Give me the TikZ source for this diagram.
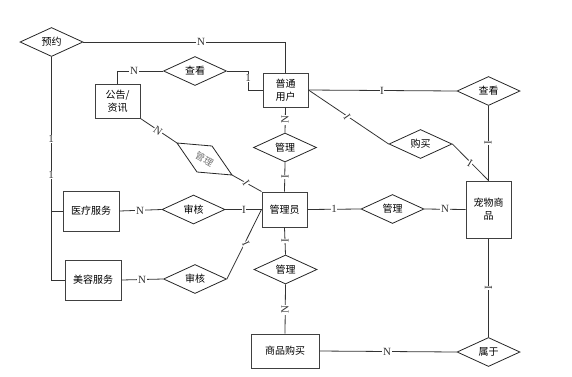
\documentclass[tikz,border=0pt]{standalone}
\usepackage{fontspec}
\setmainfont{Liberation Serif}
\newfontfamily\cjk{Noto Sans CJK SC}
\usetikzlibrary{shapes.geometric}
\begin{document}
\begin{tikzpicture}[x=1pt,y=-1pt,
  line width=0.8pt,color=black!80,
  ent/.style={draw=black!75,line width=1pt,rectangle,align=center,inner sep=1pt,text=black,font=\cjk\fontsize{10}{13}\selectfont},
  rel/.style={draw=black!85,line width=0.8pt,diamond,aspect=2,inner sep=0pt,minimum width=63pt,minimum height=29pt,text=black,font=\cjk\fontsize{10}{12}\selectfont},
  lbl/.style={fill=white,inner sep=0.6pt,font=\fontsize{11}{11}\selectfont,text=black!80},
  vl/.style={lbl,rotate=90}]
\useasboundingbox (0,0) rectangle (572,376);
% entities
\node[ent,minimum width=45pt,minimum height=34pt] (user) at (285.5,90) {普通\\用户};
\node[ent,minimum width=45pt,minimum height=34pt] (gg) at (117.5,101) {公告/\\资讯};
\node[ent,minimum width=45pt,minimum height=35pt] (adm) at (284.5,209.5) {管理员};
\node[ent,minimum width=45pt,minimum height=57pt] (pet) at (488.5,209.5) {宠物商\\品};
\node[ent,minimum width=56pt,minimum height=40pt] (yl) at (91,211) {医疗服务};
\node[ent,minimum width=56pt,minimum height=40pt] (mr) at (93,280) {美容服务};
\node[ent,minimum width=68pt,minimum height=34pt] (gm) at (285,351) {商品购买};
% relations
\node[rel] (yy) at (51.5,42) {预约};
\node[rel] (ck1) at (195,71) {查看};
\node[rel] (gl1) at (285,147.5) {管理};
\node[rel] (ck2) at (488.5,91) {查看};
\node[rel] (gm2) at (420.5,144) {购买};
\node[rel] (gl2) at (392.5,209) {管理};
\node[rel] (sh1) at (193.5,209.5) {审核};
\node[rel] (sh2) at (195,279) {审核};
\node[rel] (gl3) at (285.5,269.5) {管理};
\node[rel] (sy) at (488.5,352) {属于};
% tilted relation
\coordinate (t1) at (177,143);
\coordinate (t2) at (212,146);
\coordinate (t3) at (232,175);
\coordinate (t4) at (197,172);
\draw[draw=black!85] (t1) -- (t2) -- (t3) -- (t4) -- cycle;
\node[font=\cjk\fontsize{9.5}{11}\selectfont,text=black!55,rotate=-30,inner sep=0pt] (tx) at (204.5,159) {管理};
% connectors
\draw (yy.east) -| (user.north);
\node[lbl] at (201,42) {N};
\draw (yy.south) |- (yl.west);
\draw (yy.south) |- (mr.west);
\node[lbl] at (51,139) {1};
\node[lbl] at (51,175) {1};
\draw (ck1.west) -| (gg.north);
\node[lbl] at (134,71) {N};
\coordinate (k1) at (248,71);
\draw (ck1.east) -- (k1) |- (user.west);
\node[lbl] at (248,78) {1};
\draw (gg.south east) -- (t1);
\node[lbl,rotate=-35] at (158,131) {N};
\draw (t3) -- (adm.north west);
\node[lbl,rotate=-55] at (246,183) {I};
\draw (user.south) -- (gl1.north);
\node[vl] at (285,120) {N};
\draw (gl1.south) -- (adm.north);
\node[vl] at (285,177) {I};
\draw (user.east) -- (ck2.west);
\node[lbl] at (382,91) {I};
\draw (user.east) -- (gm2.west);
\node[lbl,rotate=-55] at (347,117) {I};
\draw (gm2.east) -- (pet.north);
\node[lbl,rotate=-30] at (470,163) {I};
\draw (ck2.south) -- (pet.north);
\node[vl] at (488,143) {I};
\draw (adm.east) -- (gl2.west);
\node[lbl] at (334,209) {1};
\draw (gl2.east) -- (pet.west);
\node[lbl] at (445,209) {N};
\draw (yl.east) -- (sh1.west);
\node[lbl] at (140,210.5) {N};
\draw (sh1.east) -- (adm.west);
\node[lbl] at (244,210) {I};
\draw (mr.east) -- (sh2.west);
\node[lbl] at (142,279.5) {N};
\draw (sh2.east) -- (adm.west);
\node[lbl,rotate=-65] at (246,244) {I};
\draw (adm.south) -- (gl3.north);
\node[vl] at (285,241) {I};
\draw (gl3.south) -- (gm.north);
\node[vl] at (285,310) {N};
\draw (gm.east) -- (sy.west);
\node[lbl] at (387,351.5) {N};
\draw (sy.north) -- (pet.south);
\node[vl] at (488.5,288) {I};
\end{tikzpicture}
\end{document}
